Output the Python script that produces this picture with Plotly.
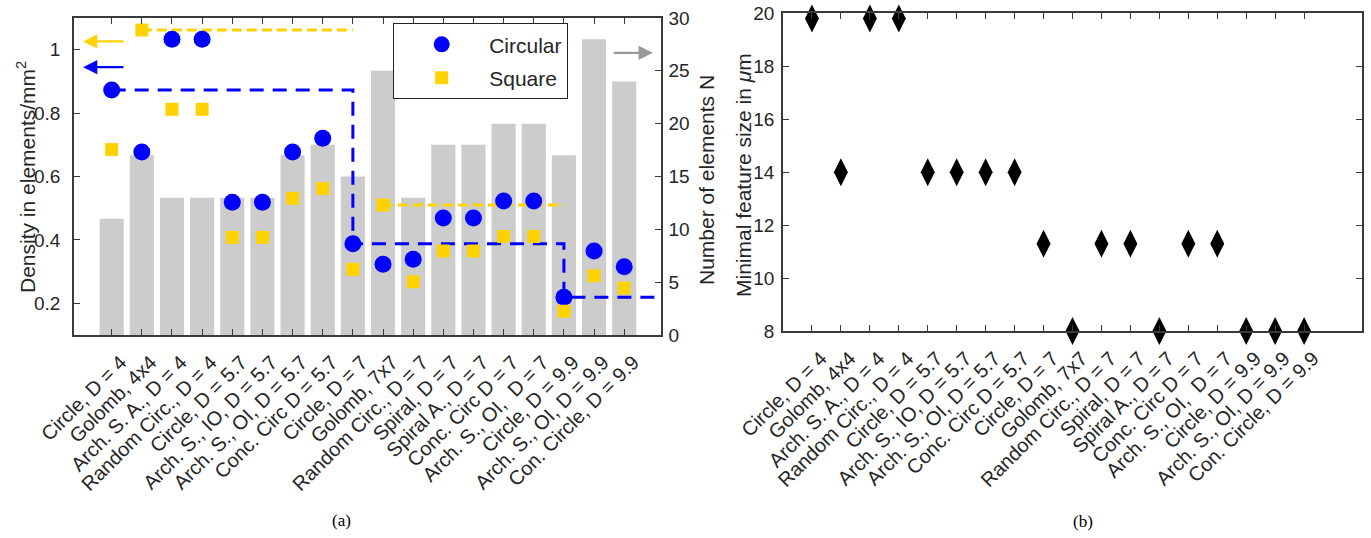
import plotly.graph_objects as go

categories = ["Circle, D = 4", "Golomb, 4x4", "Arch. S. A., D = 4", "Random Circ., D = 4",
              "Circle, D = 5.7", "Arch. S., IO, D = 5.7", "Arch. S., OI, D = 5.7", "Conc. Circ D = 5.7",
              "Circle, D = 7", "Golomb, 7x7", "Random Circ., D = 7", "Spiral, D = 7",
              "Spiral A., D = 7", "Conc. Circ D = 7", "Arch. S., OI,  D = 7", "Circle, D = 9.9",
              "Arch. S., OI, D = 9.9", "Con. Circle, D = 9.9"]
n_elements = [11, 17, 13, 13, 13, 13, 17, 18, 15, 25, 13, 18, 18, 20, 20, 17, 28, 24]
density_circular = [0.873, 0.677, 1.033, 1.033, 0.519, 0.519, 0.677, 0.721, 0.388,
                    0.323, 0.339, 0.469, 0.469, 0.523, 0.523, 0.219, 0.365, 0.315]
density_square = [0.685, 1.062, 0.812, 0.812, 0.408, 0.408, 0.531, 0.562, 0.307,
                  0.510, 0.268, 0.365, 0.365, 0.411, 0.411, 0.175, 0.287, 0.248]
min_feature = [19.8, 14, 19.8, 19.8, 14, 14, 14, 14, 11.3,
               8, 11.3, 11.3, 8, 11.3, 11.3, 8, 8, 8]

# envelope (best density) step lines
circ_env_x = [0, 8, 8, 15, 15, 18.22]
circ_env_y = [0.873, 0.873, 0.388, 0.388, 0.219, 0.219]
sq_env1_x = [1, 8]
sq_env1_y = [1.062, 1.062]
sq_env2_x = [9, 15]
sq_env2_y = [0.510, 0.510]

idx = list(range(len(categories)))

BLUE = "#0000FF"
YELLOW = "#FFD200"
GRAY = "#CCCCCC"
AX = "#3a3a3a"
FONT = "Liberation Sans, Arial, sans-serif"
TICK = 19
XTICK = 20
TITLE = 21

fig = go.Figure()

fig.add_trace(go.Bar(x=idx, y=n_elements, width=0.8, marker=dict(color=GRAY, line=dict(width=0)),
                     xaxis="x", yaxis="y", showlegend=False, hoverinfo="skip"))

fig.add_trace(go.Scatter(x=circ_env_x, y=circ_env_y, mode="lines", xaxis="x", yaxis="y2",
                         line=dict(color=BLUE, width=3, dash="14px,9px"), showlegend=False))
fig.add_trace(go.Scatter(x=sq_env1_x, y=sq_env1_y, mode="lines", xaxis="x", yaxis="y2",
                         line=dict(color=YELLOW, width=3, dash="10px,5px"), showlegend=False))
fig.add_trace(go.Scatter(x=sq_env2_x, y=sq_env2_y, mode="lines", xaxis="x", yaxis="y2",
                         line=dict(color=YELLOW, width=3, dash="10px,5px"), showlegend=False))

fig.add_trace(go.Scatter(x=idx, y=density_circular, mode="markers", name="Circular", xaxis="x", yaxis="y2",
                         legendgroup="c", marker=dict(symbol="circle", size=17, color=BLUE), cliponaxis=False))
fig.add_trace(go.Scatter(x=idx, y=density_square, mode="markers", name="Square", xaxis="x", yaxis="y2",
                         legendgroup="s", marker=dict(symbol="square", size=13, color=YELLOW), cliponaxis=False))

fig.add_trace(go.Scatter(x=idx, y=min_feature, mode="markers", xaxis="x3", yaxis="y3",
                         marker=dict(symbol="diamond-tall", size=20, color="black"),
                         showlegend=False, cliponaxis=False))

common_axis = dict(showline=True, linecolor=AX, linewidth=1.5, ticks="inside", ticklen=6,
                   tickcolor=AX, showgrid=False, zeroline=False, automargin=False,
                   tickfont=dict(family=FONT, size=TICK, color="#262626"))
x_axis_common = dict(showline=True, linecolor=AX, linewidth=1.5, ticks="inside", ticklen=6,
                     tickcolor=AX, showgrid=False, zeroline=False, automargin=False,
                     tickfont=dict(family=FONT, size=XTICK, color="#262626"),
                     tickangle=-45, mirror="ticks", ticklabelshift=9, ticklabelstandoff=6)

fig.update_layout(
    width=1371, height=538,
    margin=dict(l=0, r=0, t=0, b=0),
    paper_bgcolor="white", plot_bgcolor="white",
    font=dict(family=FONT, color="#262626"),
    xaxis=dict(domain=[74/1371, 661/1371], range=[-1.25, 18.22], tickvals=idx, ticktext=categories,
               anchor="y", **x_axis_common),
    yaxis=dict(domain=[1-335/538, 1-18/538], range=[0, 30], dtick=5, side="right", anchor="x",
               ticklabelstandoff=2, **common_axis),
    yaxis2=dict(range=[0.1, 1.1], tickvals=[0.2, 0.4, 0.6, 0.8, 1.0],
                ticktext=["0.2", "0.4", "0.6", "0.8", "1"], overlaying="y", side="left", anchor="x",
                ticklabelstandoff=8, **common_axis),
    xaxis3=dict(domain=[783/1371, 1362/1371], range=[-1, 19], tickvals=idx, ticktext=categories,
                anchor="y3", **x_axis_common),
    yaxis3=dict(domain=[1-331/538, 1-13.3/538], range=[8, 20], dtick=2, mirror="ticks", anchor="x3",
                ticklabelstandoff=3, **common_axis),
    legend=dict(x=393/1371, y=1-23/538, xanchor="left", yanchor="top", bgcolor="white",
                bordercolor="#222222", borderwidth=1.2, font=dict(family=FONT, size=21, color="#262626"),
                itemwidth=85, tracegroupgap=3, entrywidth=168),
)

annotations = [
    dict(text="Density in elements/mm<sup>2</sup>", xref="paper", yref="paper", x=26/1371, y=1-177/538,
         xanchor="center", yanchor="middle",
         textangle=-90, showarrow=False, font=dict(family=FONT, size=TITLE, color="#262626")),
    dict(text="Number of elements N", xref="paper", yref="paper", x=707/1371, y=1-180/538,
         xanchor="center", yanchor="middle",
         textangle=-90, showarrow=False, font=dict(family=FONT, size=TITLE, color="#262626")),
    dict(text="Minimal feature size in <i>μ</i>m", xref="paper", yref="paper", x=743/1371, y=1-175/538,
         xanchor="center", yanchor="middle",
         textangle=-90, showarrow=False, font=dict(family=FONT, size=TITLE, color="#262626")),
    dict(text="(a)", xref="paper", yref="paper", x=341/1371, y=1-520/538, xanchor="center", yanchor="middle",
         showarrow=False, font=dict(family="Liberation Serif, Times New Roman, serif", size=17, color="black")),
    dict(text="(b)", xref="paper", yref="paper", x=1083/1371, y=1-521/538, xanchor="center", yanchor="middle",
         showarrow=False, font=dict(family="Liberation Serif, Times New Roman, serif", size=17, color="black")),
    # arrows
    dict(x=-0.95, y=1.026, ax=0.44, ay=1.026, xref="x", yref="y2", axref="x", ayref="y2", text="",
         showarrow=True, arrowhead=2, arrowsize=1.3, arrowwidth=2.2, arrowcolor=YELLOW),
    dict(x=-0.95, y=0.945, ax=0.44, ay=0.945, xref="x", yref="y2", axref="x", ayref="y2", text="",
         showarrow=True, arrowhead=2, arrowsize=1.3, arrowwidth=2.2, arrowcolor=BLUE),
    dict(x=17.95, y=26.7, ax=16.6, ay=26.7, xref="x", yref="y", axref="x", ayref="y", text="",
         showarrow=True, arrowhead=2, arrowsize=1.3, arrowwidth=2.2, arrowcolor="#999999"),
]
fig.update_layout(annotations=annotations)

fig.write_html("out.html")
